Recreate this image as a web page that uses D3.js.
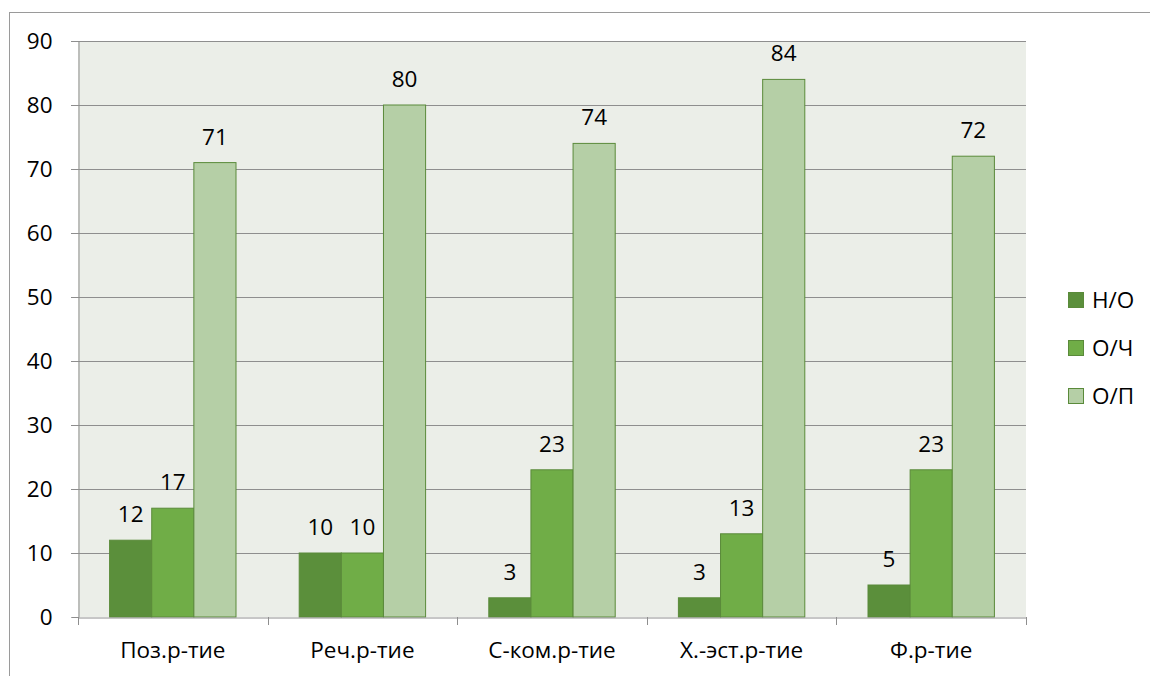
<!DOCTYPE html>
<html>
<head>
<meta charset="utf-8">
<title>chart</title>
<style>
  body { margin: 0; background: #fff; }
  svg { display: block; font-family: "Open Sans", sans-serif; }
</style>
</head>
<body>
<svg></svg>
<script src="https://d3js.org/d3.v7.min.js"></script>
<script>
    // data
    let categories = ["Поз.р-тие", "Реч.р-тие", "С-ком.р-тие", "Х.-эст.р-тие", "Ф.р-тие"];
    let seriesNames = ["Н/О", "О/Ч", "О/П"];
    let no = [12, 10, 3, 3, 5];
    let och = [17, 10, 23, 13, 23];
    let op = [71, 80, 74, 84, 72];
    let yTicks = [0, 10, 20, 30, 40, 50, 60, 70, 80, 90];
    let colors = ["#5b8f3b", "#70ad47", "#b5cfa6"];

    let width = 1150, height = 676;
    let fs = 22.5;
    let svg = d3.select("svg").attr("width", width).attr("height", height);

    let plotL = 78, plotR = 1026, plotT = 41, plotB = 617;

    // outer border
    svg.append("rect")
        .attr("x", 9.5).attr("y", 12.5)
        .attr("width", 1200).attr("height", 700)
        .attr("fill", "#fff")
        .attr("stroke", "#9a9a9a").attr("stroke-width", 1);

    let x = d3.scaleBand().domain(categories).range([plotL, plotR]);
    let xs = d3.scaleBand().domain(seriesNames)
        .range([0, x.bandwidth()]).paddingInner(0).paddingOuter(0.75);
    let y = d3.scaleLinear().domain([0, 90]).range([plotB, plotT]);

    // plot background
    svg.append("rect")
        .attr("x", plotL).attr("y", plotT)
        .attr("width", plotR - plotL).attr("height", plotB - plotT)
        .attr("fill", "#ebeee8");

    // gridlines
    svg.append("g").selectAll("line")
        .data(yTicks.filter(d => d > 0))
        .enter().append("line")
        .attr("x1", plotL - 7).attr("x2", plotR)
        .attr("y1", d => Math.round(y(d)) + 0.5).attr("y2", d => Math.round(y(d)) + 0.5)
        .attr("stroke", "#8e8e8e").attr("stroke-width", 1);

    // y axis
    let yAxis = svg.append("g")
        .attr("transform", "translate(" + (plotL + 0.5) + ",0)")
        .call(d3.axisLeft(y).tickValues(yTicks).tickSize(7).tickPadding(19));
    yAxis.select(".domain").attr("stroke", "#8e8e8e");
    yAxis.selectAll(".tick line").attr("stroke", "#8e8e8e");
    yAxis.selectAll("text").attr("font-size", fs).attr("fill", "#000")
        .attr("font-family", "'Open Sans', sans-serif");

    // bars
    let all = [no, och, op];
    let groups = svg.append("g").selectAll("g")
        .data(categories)
        .enter().append("g")
        .attr("transform", d => "translate(" + x(d) + ",0)");

    groups.selectAll("rect")
        .data((d, i) => seriesNames.map((s, j) => ({ s: s, v: all[j][i], c: colors[j] })))
        .enter().append("rect")
        .attr("x", d => xs(d.s))
        .attr("width", xs.bandwidth())
        .attr("y", d => y(d.v))
        .attr("height", d => y(0) - y(d.v))
        .attr("fill", d => d.c)
        .attr("stroke", "#5a8a3a").attr("stroke-width", 1);

    groups.selectAll("text")
        .data((d, i) => seriesNames.map((s, j) => ({ s: s, v: all[j][i] })))
        .enter().append("text")
        .attr("x", d => xs(d.s) + xs.bandwidth() / 2)
        .attr("y", d => y(d.v) - 18)
        .attr("text-anchor", "middle")
        .attr("font-size", fs)
        .attr("fill", "#000")
        .text(d => d.v);

    // x axis
    let xAxis = svg.append("g")
        .attr("transform", "translate(0," + (plotB + 0.5) + ")")
        .call(d3.axisBottom(x).tickSize(0).tickPadding(25));
    xAxis.select(".domain").attr("stroke", "#8e8e8e");
    xAxis.selectAll("text").attr("font-size", fs).attr("fill", "#000")
        .attr("font-family", "'Open Sans', sans-serif");

    // category separator ticks
    svg.append("g").selectAll("line")
        .data(categories.map(c => x(c)).concat([plotR]))
        .enter().append("line")
        .attr("x1", d => Math.round(d) + 0.5).attr("x2", d => Math.round(d) + 0.5)
        .attr("y1", plotB).attr("y2", plotB + 8)
        .attr("stroke", "#8e8e8e");

    // legend
    let legend = svg.append("g").selectAll("g")
        .data(seriesNames)
        .enter().append("g")
        .attr("transform", (d, i) => "translate(1068," + (300 + i * 48) + ")");
    legend.append("rect")
        .attr("x", 0.5).attr("y", -7.5)
        .attr("width", 15).attr("height", 15)
        .attr("fill", (d, i) => colors[i])
        .attr("stroke", "#5a8a3a");
    legend.append("text")
        .attr("x", 24).attr("y", 8)
        .attr("font-size", fs)
        .attr("fill", "#000")
        .text(d => d);
</script>
</body>
</html>
